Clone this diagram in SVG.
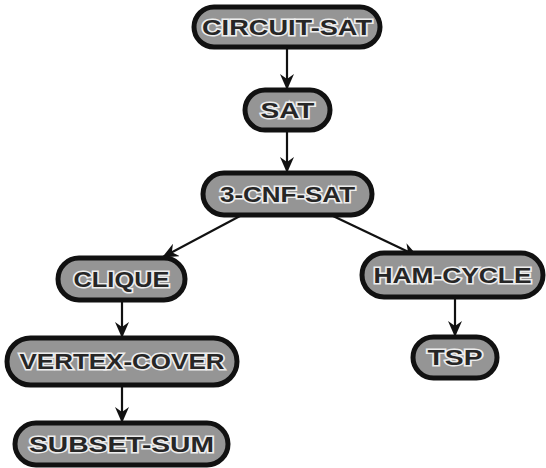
<svg xmlns="http://www.w3.org/2000/svg" width="546" height="468" viewBox="0 0 546 468">
<style>
.pill{fill:#959595;stroke:#111;stroke-width:5}
.lbl{font-family:"Liberation Sans",Arial,sans-serif;font-weight:bold;font-size:22px;fill:#262626;stroke:#ededed;stroke-width:3;paint-order:stroke;text-anchor:middle;dominant-baseline:central}
.edge{stroke:#111;stroke-width:2.2;fill:none;marker-end:url(#ah)}
</style>
<defs>
<marker id="ah" viewBox="0 0 16 14" refX="15" refY="7" markerWidth="16" markerHeight="14" markerUnits="userSpaceOnUse" orient="auto">
<path d="M0,0 L16,7 L0,14 L5,7 z" fill="#111"/>
</marker>
</defs>
<g id="connectors">
<line class="edge" x1="287" y1="49" x2="287" y2="89"/>
<line class="edge" x1="287" y1="132" x2="287" y2="172"/>
<line class="edge" x1="240" y1="216" x2="163" y2="257"/>
<line class="edge" x1="333" y1="216" x2="417" y2="256"/>
<line class="edge" x1="122" y1="302" x2="122" y2="337"/>
<line class="edge" x1="122" y1="387" x2="122" y2="422"/>
<line class="edge" x1="455" y1="299" x2="455" y2="336"/>
</g>
<g id="circuit-sat">
<rect class="pill" x="194" y="7" width="186" height="40" rx="20"/>
<text class="lbl" x="287" y="27" textLength="170" lengthAdjust="spacingAndGlyphs">CIRCUIT-SAT</text>
</g>
<g id="sat">
<rect class="pill" x="245" y="90" width="85" height="40" rx="20"/>
<text class="lbl" x="287.5" y="110" textLength="54" lengthAdjust="spacingAndGlyphs">SAT</text>
</g>
<g id="cnf-sat">
<rect class="pill" x="203" y="173" width="169" height="42" rx="21"/>
<text class="lbl" x="287.5" y="194" textLength="135" lengthAdjust="spacingAndGlyphs">3-CNF-SAT</text>
</g>
<g id="clique">
<rect class="pill" x="58" y="258" width="127" height="42" rx="21"/>
<text class="lbl" x="121.5" y="279" textLength="96" lengthAdjust="spacingAndGlyphs">CLIQUE</text>
</g>
<g id="vertex-cover">
<rect class="pill" x="7" y="338" width="230" height="47" rx="23.5"/>
<text class="lbl" x="122" y="361.5" textLength="205" lengthAdjust="spacingAndGlyphs">VERTEX-COVER</text>
</g>
<g id="subset-sum">
<rect class="pill" x="15" y="423" width="213" height="42" rx="21"/>
<text class="lbl" x="121.5" y="444" textLength="185" lengthAdjust="spacingAndGlyphs">SUBSET-SUM</text>
</g>
<g id="ham-cycle">
<rect class="pill" x="362" y="253" width="181" height="44" rx="22"/>
<text class="lbl" x="452.5" y="275" textLength="158" lengthAdjust="spacingAndGlyphs">HAM-CYCLE</text>
</g>
<g id="tsp">
<rect class="pill" x="413" y="337" width="84" height="41" rx="20.5"/>
<text class="lbl" x="455" y="357.5" textLength="55" lengthAdjust="spacingAndGlyphs">TSP</text>
</g>
</svg>
